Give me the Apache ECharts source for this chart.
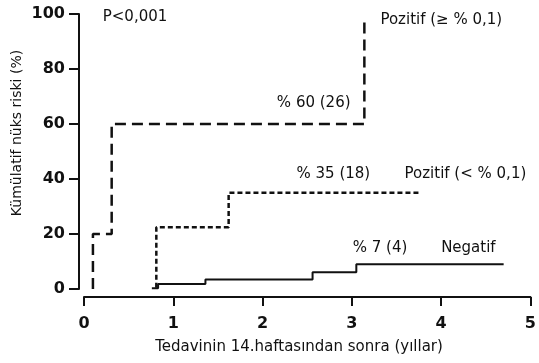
<!DOCTYPE html>
<html>
<head>
<meta charset="utf-8">
<script src="https://cdn.jsdelivr.net/npm/echarts@6/dist/echarts.min.js"></script>
<style>html,body{margin:0;padding:0;background:#fff}#c{width:539px;height:363px}</style>
</head>
<body>
<div id="c"></div>
<script>
// Step curves: event times (years) and cumulative risk levels (%)
var posHighX = [0.10, 0.10, 0.31, 3.14];
var posHighY = [0, 20, 60, 97];
var posLowX = [0.81, 0.81, 1.62, 3.76];
var posLowY = [0.5, 22.5, 35, 35];
var negX = [0.76, 0.83, 1.36, 2.56, 3.05, 4.70];
var negY = [0.3, 1.8, 3.5, 6.1, 9.0, 9.0];

var xTicks = [0, 1, 2, 3, 4, 5];
var yTicks = [0, 20, 40, 60, 80, 100];

var xName = 'Tedavinin 14.haftasından sonra (yıllar)';
var yName = 'Kümülatif nüks riski (%)';

// Annotations: text, x (years), y (%) of their left-middle anchor
var annTexts = ['P<0,001', 'Pozitif (≥ % 0,1)', '% 60 (26)', '% 35 (18)', 'Pozitif (< % 0,1)', '% 7 (4)', 'Negatif'];
var annX = [0.21, 3.32, 2.16, 2.38, 3.59, 3.01, 4.00];
var annY = [98.9, 97.8, 67.6, 41.8, 41.8, 14.9, 14.9];

function pairs(xs, ys) { return xs.map(function (x, i) { return [x, ys[i]]; }); }

var chart = echarts.init(document.getElementById('c'), null, { renderer: 'canvas' });
var ink = '#111';
var option = {
  animation: false,
  backgroundColor: '#fff',
  grid: { left: 84, right: 6, top: 14, bottom: 74 },
  xAxis: {
    type: 'value', min: 0, max: 5, interval: 1, offset: 8,
    axisLine: { show: true, onZero: false, lineStyle: { color: ink, width: 2 } },
    axisTick: { show: true, length: 9, lineStyle: { color: ink, width: 2 } },
    axisLabel: { margin: 19, color: ink, fontSize: 16, fontWeight: 'bold', fontFamily: 'DejaVu Sans',
      formatter: function (v) { return xTicks.indexOf(v) >= 0 ? String(v) : ''; } },
    splitLine: { show: false }
  },
  yAxis: {
    type: 'value', min: 0, max: 100, interval: 20, offset: 5,
    axisLine: { show: true, onZero: false, lineStyle: { color: ink, width: 2 } },
    axisTick: { show: true, length: 10, lineStyle: { color: ink, width: 2 } },
    axisLabel: { margin: 14, color: ink, fontSize: 16, fontWeight: 'bold', fontFamily: 'DejaVu Sans',
      formatter: function (v) { return yTicks.indexOf(v) >= 0 ? String(v) : ''; } },
    splitLine: { show: false }
  },
  series: [
    { type: 'line', step: 'end', showSymbol: false, data: pairs(posHighX, posHighY),
      lineStyle: { color: ink, width: 2.5, type: [11, 6] } },
    { type: 'line', step: 'end', showSymbol: false, data: pairs(posLowX, posLowY),
      lineStyle: { color: ink, width: 2.5, type: [5, 3] } },
    { type: 'line', step: 'end', showSymbol: false, data: pairs(negX, negY),
      lineStyle: { color: ink, width: 2 } }
  ]
};
chart.setOption(option);

var els = [];
annTexts.forEach(function (t, i) {
  var p = chart.convertToPixel({ gridIndex: 0 }, [annX[i], annY[i]]);
  els.push({ type: 'text', x: p[0], y: p[1],
    style: { text: t, fill: ink, font: '15px "DejaVu Sans"', textAlign: 'left', textVerticalAlign: 'middle' } });
});
els.push({ type: 'text', x: 299, y: 347,
  style: { text: xName, fill: ink, font: '15px "DejaVu Sans"', textAlign: 'center', textVerticalAlign: 'middle' } });
els.push({ type: 'text', x: 17, y: 133, rotation: Math.PI / 2,
  style: { text: yName, fill: ink, font: '14px "DejaVu Sans"', textAlign: 'center', textVerticalAlign: 'middle' } });
chart.setOption({ graphic: { elements: els } });
</script>
</body>
</html>
